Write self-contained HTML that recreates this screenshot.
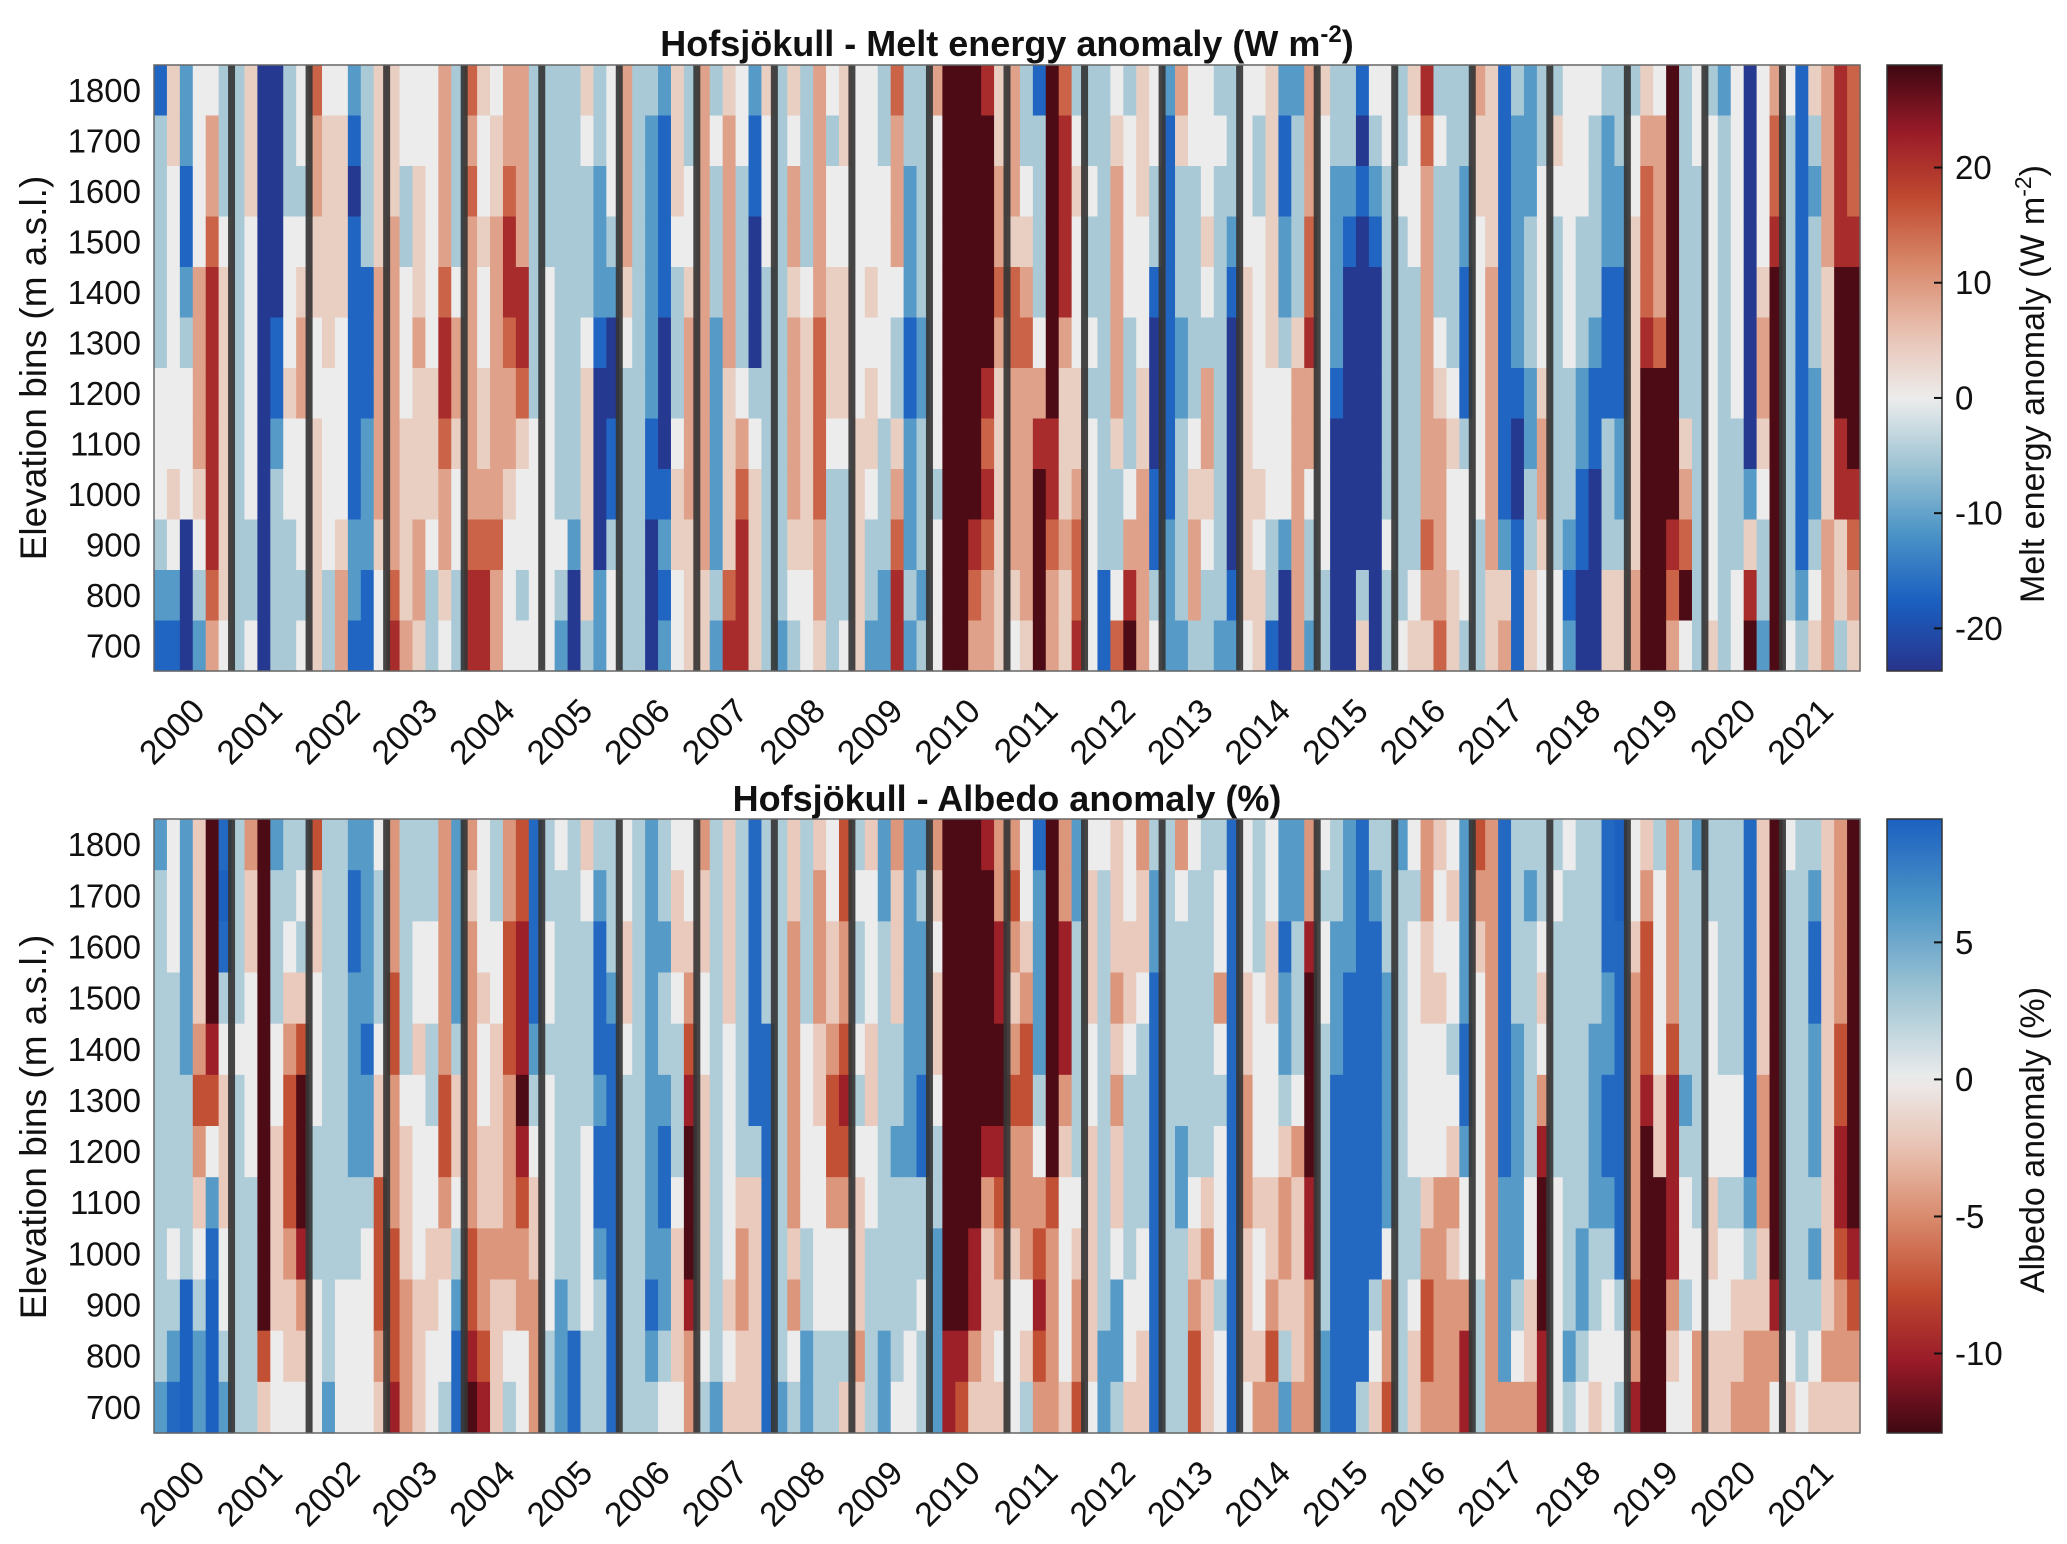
<!DOCTYPE html>
<html><head><meta charset="utf-8"><style>
html,body{margin:0;padding:0;background:#fff;}
svg{display:block;font-family:"Liberation Sans",Arial,sans-serif;}
</style></head>
<body>
<svg id="fig" width="2067" height="1544" viewBox="0 0 2067 1544" xmlns="http://www.w3.org/2000/svg">
<defs id="defs"></defs>
<text x="1007" y="56" font-size="36" font-weight="bold" text-anchor="middle" fill="#111">Hofsjökull - Melt energy anomaly (W m<tspan font-size="24" dy="-14">-2</tspan><tspan dy="14">)</tspan></text>
<text x="1007" y="811" font-size="36" font-weight="bold" text-anchor="middle" fill="#111">Hofsjökull - Albedo anomaly (%)</text>
<text transform="translate(46,368) rotate(-90)" font-size="37" text-anchor="middle" fill="#111">Elevation bins (m a.s.l.)</text>
<text transform="translate(46,1127) rotate(-90)" font-size="37" text-anchor="middle" fill="#111">Elevation bins (m a.s.l.)</text>
<text transform="translate(2044,384) rotate(-90)" font-size="34" text-anchor="middle" fill="#111">Melt energy anomaly (W m<tspan font-size="23" dy="-13">-2</tspan><tspan dy="13">)</tspan></text>
<text transform="translate(2044,1140) rotate(-90)" font-size="34" text-anchor="middle" fill="#111">Albedo anomaly (%)</text>
<g id="layers"></g>
</svg>
<script>
const years=["2000","2001","2002","2003","2004","2005","2006","2007","2008","2009","2010","2011","2012","2013","2014","2015","2016","2017","2018","2019","2020","2021"];
const elevationLabels=["1800","1700","1600","1500","1400","1300","1200","1100","1000","900","800","700"];
// anomaly classes 0..9 per column (top=1800 ... bottom=700), 6 columns per year
const meltClassValues=[-23,-17,-11,-5,0,4,9,15,21,28];
const albedoClassValues=[9.5,9,6,2.5,0,-2,-4.5,-7.5,-10,-12.5];
const meltColumns=[
"133333444321","554444445421","221123444000","444466665432","466788888876","333455555554",
"333333333333","555444444334","000000000000","000001123333","333444544333","443456644434",
"766554455555","455555444433","455554444566","210111111221","333311122211","555566666544",
"555666666678","443344455556","445556555665","444444555433","666678876654","333346654433",
"767666666788","544544556788","455666666766","667887665444","666688754434","333333344444",
"333344444444","333333333432","333333333200","543334555553","332221000022","444320011344",
"666654333333","333333333333","322222211000","211110001212","555433345544","334456666555",
"666666666655","343332222232","566666555578","443333467888","211000345555","544433333333",
"333333333332","546656666543","333345555544","666667777665","434455543333","554455543334",
"444444455555","444454554332","334444433322","766643356788","332221122232","333332233323",
"644444443444","999999999999","999999999999","999999999876","899999878766","556676555555",
"666577666654","334567666665","133334689999","999999988766","788886555655","345444556778",
"334334344444","333333333311","456666653347","344443334689","555444556666","443310001134",
"211111111222","653332233332","443333345663","444543665433","343333333332","333210000012",
"444455555554","433444445455","555555444331","211223444200","233335666666","666778664332",
"544444444433","332222100000","332100000000","101000000035","432100000000","443333333433",
"334333333334","544433333345","876666666765","343334566667","333333454455","332211134443",
"655444444333","555566666655","111111111256","322222100111","222333223355","334444566544",
"354333333344","444444333212","444333221100","433332110000","322211133355","332211122355",
"344555555566","567778999999","466667999999","999999999876","333333356794","443333333333",
"344444444445","233333333333","444444433344","000000002589","444456654332","677899999999",
"433333333334","111111111123","532333222345","666655555666","888899988553","777899998765"];
const albedoColumns=[
"233333333332","444333334321","222223333000","555567654322","999987421000","101345554432",
"333343333333","655444433333","999999999975","233344555544","334567776554","343579998654",
"755444333444","333333333332","333333333444","211222233444","222212234444","433345577765",
"666776667778","333334555666","334454444555","334433445544","666667765443","222235543211",
"656666667789","444544556678","334455556555","667776666543","778889876644","111123455666",
"334434444433","433333333222","333333333311","543333444433","321112112333","333211111111",
"445543333333","333333333333","222222222123","332332112234","455433345554","445678999866",
"655445555543","333333333332","555544444545","333333356655","111111355555","333311111111",
"333333333332","556666665643","333344443322","566655444433","445567764433","776678764435",
"343343455565","544455443333","223333333322","655533233334","222222233344","232221133433",
"654554332222","999999999988","999999999987","999999998865","899999865555","668899876545",
"676567665444","445677666453","122223467876","999999976666","668886544445","223333345667",
"455544555554","433333333322","555656554223","445543333445","655433334455","322111111111",
"333333333333","643333223333","433333345677","333333356555","344643444344","111111111111",
"444556665554","333444454456","445544455676","221223566532","223334655556","668999988666",
"434433333322","332221111111","222111111111","111111111113","321111111345","333222224667",
"233333333333","434444433455","665544456776","544544466666","454434565666","222211244688",
"765444444333","666666666666","111111122226","333322222346","323333344556","334546899988",
"343333344444","433333333323","333333332234","333322223345","111221123444","001111111343",
"445666666768","567778999999","344445599999","666678888654","333332344344","233333334466",
"334444455455","333334434455","333334434556","111111123566","555556665566","999999999864",
"433333333345","333333333334","321122232345","555555555565","666677887665","999999998765"];
const meltTicks=[-20,-10,0,10,20];
const albedoTicks=[-10,-5,0,5];

const NS="http://www.w3.org/2000/svg";
const X0=154,X1=1860,NCOL=6;
const stops=[[-1,[40,52,139]],[-0.75,[26,94,192]],[-0.5,[74,147,198]],[-0.25,[157,195,211]],[0,[236,236,236]],[0.2,[232,192,176]],[0.4,[216,136,106]],[0.6,[192,74,48]],[0.8,[152,26,40]],[1,[62,8,18]]];
function cmap(t){t=Math.max(-1,Math.min(1,t));for(let i=0;i<stops.length-1;i++){const a=stops[i],b=stops[i+1];if(t<=b[0]){const f=(t-a[0])/(b[0]-a[0]);const c=a[1].map((v,k)=>Math.round(v+(b[1][k]-v)*f));return "rgb("+c.join(",")+")";}}return "rgb(62,8,18)";}
function mk(tag,attrs,parent){const e=document.createElementNS(NS,tag);for(const k in attrs)e.setAttribute(k,attrs[k]);parent.appendChild(e);return e;}
const layers=document.getElementById('layers');
const defs=document.getElementById('defs');
const panels=[
 {key:"melt",y0:65,y1:671,cols:meltColumns,vals:meltClassValues,vmin:-23.7,vmax:28.9,sign:1,neg:23.7,pos:28.9,ticks:meltTicks},
 {key:"albedo",y0:819,y1:1433,cols:albedoColumns,vals:albedoClassValues,vmin:-12.9,vmax:9.5,sign:-1,neg:12.9,pos:12.9,ticks:albedoTicks}];
function colorOf(p,v){const s=p.sign*v;return cmap(s<0?s/p.neg:s/p.pos);}
panels.forEach(p=>{
 const g=mk('g',{},layers);
 
 
 const yearW=(X1-X0)/years.length, colW=yearW/NCOL, rowH=(p.y1-p.y0)/elevationLabels.length;
 const xScale=i=>X0+i*colW, yScale=r=>p.y0+r*rowH;
 p.cols.forEach((s,ci)=>{
  for(let r=0;r<s.length;r++){
   const v=p.vals[+s[r]];
   const c=mk('rect',{x:xScale(ci).toFixed(2),y:yScale(r).toFixed(2),width:(colW+0.6).toFixed(2),height:(rowH+0.6).toFixed(2),fill:colorOf(p,v)},g);
   
   
  }
 });
 for(let y=1;y<years.length;y++){
  const l=mk('rect',{x:(X0+y*yearW-3.5).toFixed(2),y:p.y0,width:7,height:p.y1-p.y0,fill:'#363636','fill-opacity':0.92},g);
  
  
 }
 const fr=mk('rect',{x:X0,y:p.y0,width:X1-X0,height:p.y1-p.y0,fill:'none',stroke:'#666','stroke-width':1.5},g);
 
 
 elevationLabels.forEach((lab,r)=>{
  const t=mk('text',{x:141,y:(yScale(r)+rowH/2).toFixed(1),'font-size':33,'text-anchor':'end','dominant-baseline':'central',fill:'#111'},g);
  t.textContent=lab;
  
  
 });
 years.forEach((yr,i)=>{
  const cx=X0+(i+0.5)*yearW+14, cy=p.y1+42;
  const t=mk('text',{transform:'translate('+cx.toFixed(1)+','+cy+') rotate(-45)','font-size':34,'text-anchor':'end',fill:'#111'},g);
  t.textContent=yr;
  
  
 });
 const gid='grad-'+p.key;
 const lg=mk('linearGradient',{id:gid,x1:0,y1:0,x2:0,y2:1},defs);
 for(let k=0;k<=60;k++){const v=p.vmax-(p.vmax-p.vmin)*k/60;mk('stop',{offset:(k/60*100).toFixed(2)+'%','stop-color':colorOf(p,v)},lg);}
 const cbY=v=>p.y0+(p.vmax-v)/(p.vmax-p.vmin)*(p.y1-p.y0);
 const cb=mk('rect',{x:1887,y:p.y0,width:55,height:p.y1-p.y0,fill:'url(#'+gid+')',stroke:'#333','stroke-width':1.5},g);
 
 
 p.ticks.forEach(v=>{
  const y=cbY(v);
  const tk=mk('line',{x1:1934,x2:1942,y1:y,y2:y,stroke:'#111','stroke-width':2},g);
  
  
  const t=mk('text',{x:1955,y:y.toFixed(1),'font-size':33,'dominant-baseline':'central',fill:'#111'},g);
  t.textContent=String(v);
  
  
 });
});
</script>
</body></html>
